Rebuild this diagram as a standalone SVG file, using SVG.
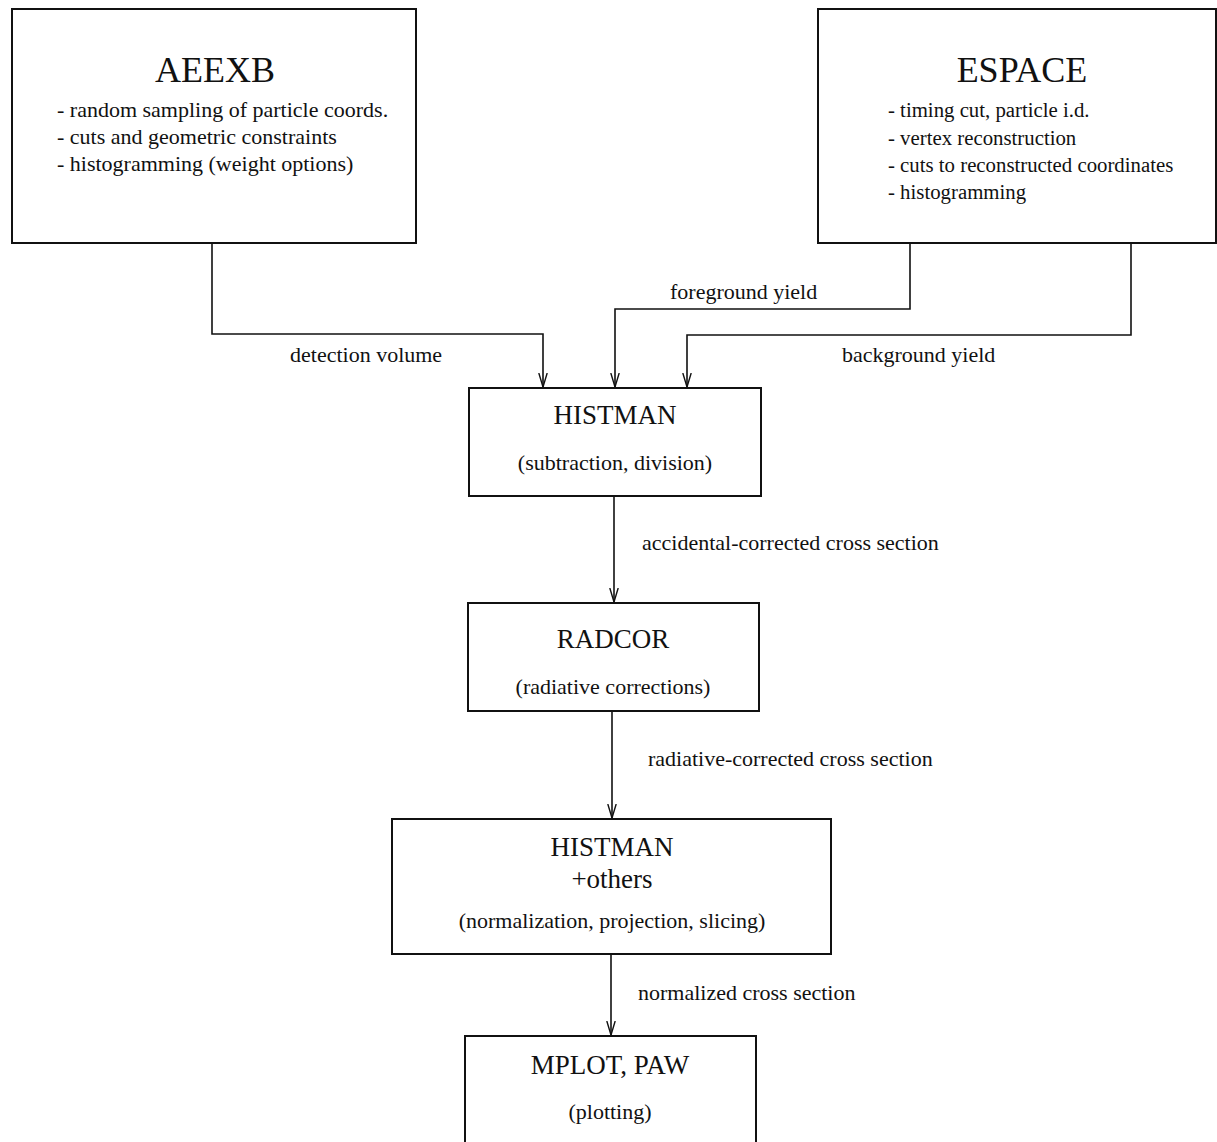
<svg xmlns="http://www.w3.org/2000/svg" width="1217" height="1142" viewBox="0 0 1217 1142">
<style>
.box{fill:#fff;stroke:#111;stroke-width:2}
.big{font-family:"Liberation Serif","Times New Roman",serif;font-size:36px;fill:#111;text-anchor:middle}
.title{font-family:"Liberation Serif","Times New Roman",serif;font-size:27px;fill:#111;text-anchor:middle}
.sub{font-family:"Liberation Serif","Times New Roman",serif;font-size:22px;fill:#111;text-anchor:middle}
.item{font-family:"Liberation Serif","Times New Roman",serif;font-size:22px;fill:#111}
.item2{font-family:"Liberation Serif","Times New Roman",serif;font-size:20.8px;fill:#111}
.lbl{font-family:"Liberation Serif","Times New Roman",serif;font-size:22px;fill:#111}
.conn{fill:none;stroke:#111;stroke-width:1.6}
</style>
<defs>
<marker id="arr" viewBox="0 0 14 10" refX="14" refY="5" markerWidth="14" markerHeight="10" markerUnits="userSpaceOnUse" orient="auto">
<path d="M0,0.8 L14,5 L0,9.2" fill="none" stroke="#111" stroke-width="1.4"/>
</marker>
</defs>
<rect width="1217" height="1142" fill="#fff"/>

<g id="connectors">
<path class="conn" d="M212,243 V334 H543 V387" marker-end="url(#arr)"/>
<path class="conn" d="M910,243 V309 H615 V387" marker-end="url(#arr)"/>
<path class="conn" d="M1131,243 V335 H687 V387" marker-end="url(#arr)"/>
<path class="conn" d="M614,496 V602" marker-end="url(#arr)"/>
<path class="conn" d="M612,711 V818" marker-end="url(#arr)"/>
<path class="conn" d="M611,954 V1035" marker-end="url(#arr)"/>
<text class="lbl" x="290" y="362">detection volume</text>
<text class="lbl" x="670" y="299">foreground yield</text>
<text class="lbl" x="842" y="362">background yield</text>
<text class="lbl" x="642" y="550">accidental-corrected cross section</text>
<text class="lbl" x="648" y="766">radiative-corrected cross section</text>
<text class="lbl" x="638" y="1000">normalized cross section</text>
</g>

<g id="aeexb">
<rect class="box" x="12" y="9" width="404" height="234"/>
<text class="big" x="215" y="82">AEEXB</text>
<text class="item" x="57" y="117">- random sampling of particle coords.</text>
<text class="item" x="57" y="144">- cuts and geometric constraints</text>
<text class="item" x="57" y="171">- histogramming (weight options)</text>
</g>

<g id="espace">
<rect class="box" x="818" y="9" width="398" height="234"/>
<text class="big" x="1022" y="82">ESPACE</text>
<text class="item2" x="888" y="117">- timing cut, particle i.d.</text>
<text class="item2" x="888" y="145">- vertex reconstruction</text>
<text class="item2" x="888" y="172">- cuts to reconstructed coordinates</text>
<text class="item2" x="888" y="199">- histogramming</text>
</g>

<g id="histman1">
<rect class="box" x="469" y="388" width="292" height="108"/>
<text class="title" x="615" y="424">HISTMAN</text>
<text class="sub" x="615" y="470">(subtraction, division)</text>
</g>

<g id="radcor">
<rect class="box" x="468" y="603" width="291" height="108"/>
<text class="title" x="613" y="648">RADCOR</text>
<text class="sub" x="613" y="694">(radiative corrections)</text>
</g>

<g id="histman2">
<rect class="box" x="392" y="819" width="439" height="135"/>
<text class="title" x="612" y="856">HISTMAN</text>
<text class="title" x="612" y="888">+others</text>
<text class="sub" x="612" y="928">(normalization, projection, slicing)</text>
</g>

<g id="mplot">
<rect class="box" x="465" y="1036" width="291" height="120"/>
<text class="title" x="610" y="1074">MPLOT, PAW</text>
<text class="sub" x="610" y="1119">(plotting)</text>
</g>
</svg>
